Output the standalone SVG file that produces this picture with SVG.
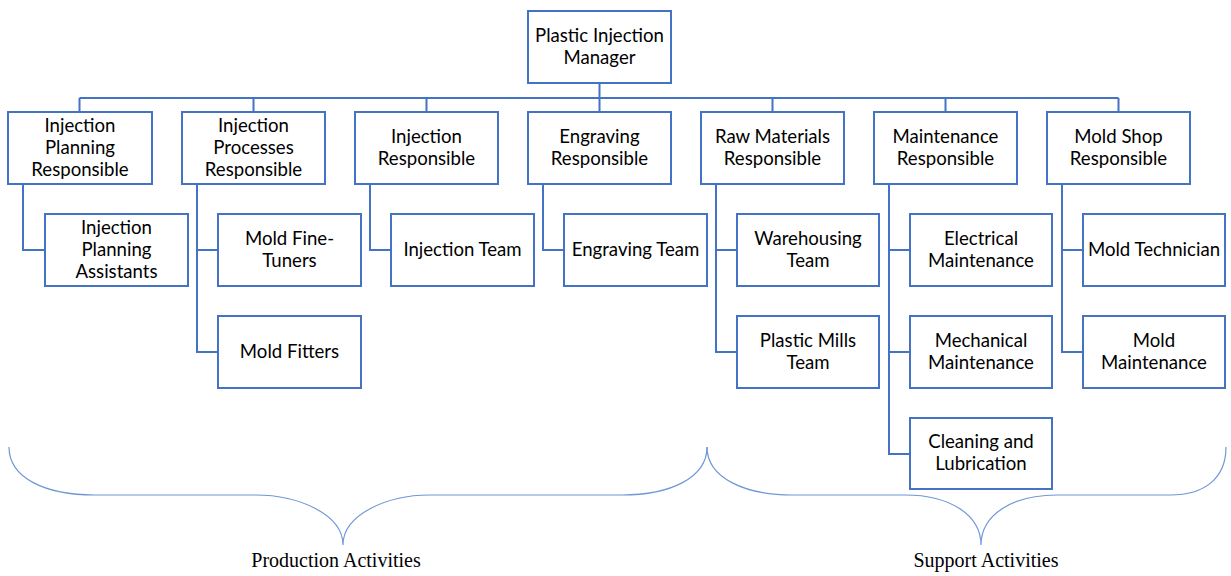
<svg xmlns="http://www.w3.org/2000/svg" width="1231" height="576" viewBox="0 0 1231 576">
<style>
.box{fill:#fff;stroke:#4472C4;stroke-width:2}
.t{font-family:Lato,"Open Sans",sans-serif;font-size:18.6px;fill:#000;text-anchor:middle}
.c{fill:none;stroke:#4472C4;stroke-width:2}
.br{fill:none;stroke:#6F97D6;stroke-width:1.2}
.lbl{font-family:"Liberation Serif",serif;font-size:20px;fill:#000;text-anchor:middle}
</style>
<rect width="1231" height="576" fill="#fff"/>
<g id="connectors">
<path class="c" d="M599.5,83V98M79.5,98H1118.5M79.5,98V112M253.5,98V112M426.5,98V112M599.5,98V112M772.5,98V112M945.5,98V112M1118.5,98V112"/>
<path class="c" d="M23,184V250H44"/>
<path class="c" d="M197,184V352H218M197,250H218"/>
<path class="c" d="M370,184V250H391"/>
<path class="c" d="M543,184V250H564"/>
<path class="c" d="M716,184V352H737M716,250H737"/>
<path class="c" d="M889,184V454H910M889,250H910M889,352H910"/>
<path class="c" d="M1062,184V352H1083M1062,250H1083"/>
</g>
<g id="manager"><rect class="box" x="528" y="11" width="143" height="72"/><text class="t"><tspan x="599.5" y="42">Plastic Injection</tspan><tspan x="599.5" y="64">Manager</tspan></text></g>
<g id="injection-planning-responsible"><rect class="box" x="8" y="112" width="144" height="72"/><text class="t"><tspan x="80" y="132">Injection</tspan><tspan x="80" y="154">Planning</tspan><tspan x="80" y="176">Responsible</tspan></text></g>
<g id="injection-processes-responsible"><rect class="box" x="182" y="112" width="143" height="72"/><text class="t"><tspan x="253.5" y="132">Injection</tspan><tspan x="253.5" y="154">Processes</tspan><tspan x="253.5" y="176">Responsible</tspan></text></g>
<g id="injection-responsible"><rect class="box" x="355" y="112" width="143" height="72"/><text class="t"><tspan x="426.5" y="143">Injection</tspan><tspan x="426.5" y="165">Responsible</tspan></text></g>
<g id="engraving-responsible"><rect class="box" x="528" y="112" width="143" height="72"/><text class="t"><tspan x="599.5" y="143">Engraving</tspan><tspan x="599.5" y="165">Responsible</tspan></text></g>
<g id="raw-materials-responsible"><rect class="box" x="701" y="112" width="143" height="72"/><text class="t"><tspan x="772.5" y="143">Raw Materials</tspan><tspan x="772.5" y="165">Responsible</tspan></text></g>
<g id="maintenance-responsible"><rect class="box" x="874" y="112" width="143" height="72"/><text class="t"><tspan x="945.5" y="143">Maintenance</tspan><tspan x="945.5" y="165">Responsible</tspan></text></g>
<g id="mold-shop-responsible"><rect class="box" x="1047" y="112" width="143" height="72"/><text class="t"><tspan x="1118.5" y="143">Mold Shop</tspan><tspan x="1118.5" y="165">Responsible</tspan></text></g>
<g id="injection-planning-assistants"><rect class="box" x="45" y="214" width="143" height="72"/><text class="t"><tspan x="116.5" y="234">Injection</tspan><tspan x="116.5" y="256">Planning</tspan><tspan x="116.5" y="278">Assistants</tspan></text></g>
<g id="mold-fine-tuners"><rect class="box" x="218" y="214" width="143" height="72"/><text class="t"><tspan x="289.5" y="245">Mold Fine-</tspan><tspan x="289.5" y="267">Tuners</tspan></text></g>
<g id="mold-fitters"><rect class="box" x="218" y="316" width="143" height="72"/><text class="t"><tspan x="289.5" y="358">Mold Fitters</tspan></text></g>
<g id="injection-team"><rect class="box" x="391" y="214" width="143" height="72"/><text class="t"><tspan x="462.5" y="256">Injection Team</tspan></text></g>
<g id="engraving-team"><rect class="box" x="564" y="214" width="143" height="72"/><text class="t"><tspan x="635.5" y="256">Engraving Team</tspan></text></g>
<g id="warehousing-team"><rect class="box" x="737" y="214" width="142" height="72"/><text class="t"><tspan x="808" y="245">Warehousing</tspan><tspan x="808" y="267">Team</tspan></text></g>
<g id="plastic-mills-team"><rect class="box" x="737" y="316" width="142" height="72"/><text class="t"><tspan x="808" y="347">Plastic Mills</tspan><tspan x="808" y="369">Team</tspan></text></g>
<g id="electrical-maintenance"><rect class="box" x="910" y="214" width="142" height="72"/><text class="t"><tspan x="981" y="245">Electrical</tspan><tspan x="981" y="267">Maintenance</tspan></text></g>
<g id="mechanical-maintenance"><rect class="box" x="910" y="316" width="142" height="72"/><text class="t"><tspan x="981" y="347">Mechanical</tspan><tspan x="981" y="369">Maintenance</tspan></text></g>
<g id="cleaning-and-lubrication"><rect class="box" x="910" y="418" width="142" height="71"/><text class="t"><tspan x="981" y="448">Cleaning and</tspan><tspan x="981" y="470">Lubrication</tspan></text></g>
<g id="mold-technician"><rect class="box" x="1083" y="214" width="142" height="72"/><text class="t"><tspan x="1154" y="256">Mold Technician</tspan></text></g>
<g id="mold-maintenance"><rect class="box" x="1083" y="316" width="142" height="72"/><text class="t"><tspan x="1154" y="347">Mold</tspan><tspan x="1154" y="369">Maintenance</tspan></text></g>
<g id="braces">
<path class="br" d="M9,447C9,478 45,495 95,495H255C300,495 343,515 343,545C343,515 386,495 430,495H622C670,495 707,478 707,447"/>
<path class="br" d="M707,447C707,478 745,495 792,495H905C950,495 981,515 981,545C981,515 1012,495 1057,495H1170C1205,495 1226,478 1226,447"/>
</g>
<g id="labels">
<text class="lbl" x="336" y="567">Production Activities</text>
<text class="lbl" x="986" y="567">Support Activities</text>
</g>
</svg>
